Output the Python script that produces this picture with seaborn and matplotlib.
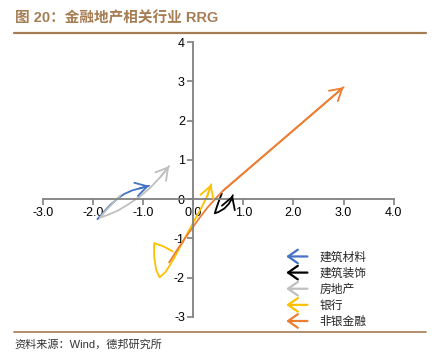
import matplotlib
matplotlib.use("Agg")
import matplotlib.pyplot as plt
import pandas as pd
import seaborn as sns
from matplotlib.lines import Line2D
from matplotlib.patches import FancyArrowPatch
from matplotlib.legend_handler import HandlerBase

# RRG tails (x = relative strength, y = momentum)
names = ["建筑材料", "建筑装饰", "房地产", "银行", "非银金融"]
colors = ["#4472C4", "#000000", "#BFBFBF", "#FFC000", "#ED7D31"]

jzcl_x = [-1.91, -1.78, -1.65, -1.50, -1.38, -1.22, -1.08, -0.88]
jzcl_y = [-0.51, -0.32, -0.14, 0.02, 0.13, 0.22, 0.27, 0.34]

jzzs_x = [0.57, 0.52, 0.47, 0.43, 0.50, 0.62, 0.71, 0.76, 0.79]
jzzs_y = [0.14, -0.02, -0.20, -0.36, -0.33, -0.24, -0.12, -0.01, 0.10]

fdc_x = [-1.45, -1.60, -1.75, -1.86, -1.70, -1.50, -1.28, -1.05, -0.85, -0.65, -0.48]
fdc_y = [0.10, -0.10, -0.30, -0.47, -0.40, -0.29, -0.12, 0.08, 0.30, 0.57, 0.84]

yh_x = [-0.41, -0.60, -0.78, -0.78, -0.74, -0.67, -0.55, -0.38, -0.18, 0.02, 0.17, 0.28, 0.36]
yh_y = [-1.33, -1.20, -1.12, -1.45, -1.80, -1.99, -1.85, -1.50, -1.02, -0.55, -0.20, 0.08, 0.38]

fy_x = [-0.48, -0.30, -0.10, 0.10, 0.28, 0.45, 0.60, 3.00]
fy_y = [-1.61, -1.25, -0.88, -0.52, -0.22, 0.02, 0.22, 2.85]

series_x = [jzcl_x, jzzs_x, fdc_x, yh_x, fy_x]
series_y = [jzcl_y, jzzs_y, fdc_y, yh_y, fy_y]

x_ticks = [-3, -2, -1, 0, 1, 2, 3, 4]
y_ticks = [-3, -2, -1, 0, 1, 2, 3, 4]


class ArrowHandler(HandlerBase):
    """Legend entry drawn as a left-pointing open arrow."""
    def create_artists(self, legend, orig_handle, xdescent, ydescent,
                       width, height, fontsize, trans):
        y = height / 2 - ydescent
        arr = FancyArrowPatch((width - xdescent, y), (-xdescent, y),
                              arrowstyle="->,head_length=0.5,head_width=0.35",
                              mutation_scale=14, color=orig_handle.get_color(),
                              lw=1.6, shrinkA=0, shrinkB=0, transform=trans)
        return [arr]


sns.set_theme(style="white")
# Arial-like digits, CJK glyphs fall back to Noto
plt.rcParams["font.family"] = ["Liberation Sans", "Noto Sans CJK SC", "DejaVu Sans"]
plt.rcParams["axes.unicode_minus"] = False

fig = plt.figure(figsize=(4.37, 3.59), dpi=100)
ax = fig.add_axes([0.098, 0.117, 0.803, 0.766])

handles = []
for name, c, xs, ys in zip(names, colors, series_x, series_y):
    df = pd.DataFrame({"x": xs, "y": ys})
    sns.lineplot(data=df, x="x", y="y", sort=False, color=c, lw=1.3, ax=ax,
                 estimator=None)
    ax.annotate("", xy=(xs[-1], ys[-1]), xytext=(xs[-2], ys[-2]),
                arrowprops=dict(arrowstyle="->,head_length=0.6,head_width=0.35",
                                color=c, lw=1.3, mutation_scale=14,
                                shrinkA=0, shrinkB=0))
    handles.append(Line2D([], [], color=c, label=name))

ax.set_xlim(-3, 4)
ax.set_ylim(-3, 4)
ax.set_xticks(x_ticks)
ax.set_xticklabels([f"{v:.1f}" for v in x_ticks])
ax.set_yticks(y_ticks)
ax.set_yticklabels([str(v) for v in y_ticks])
ax.set_xlabel("")
ax.set_ylabel("")

# axes crossing at zero
ax.spines["left"].set_position(("data", 0))
ax.spines["bottom"].set_position(("data", 0))
ax.spines["right"].set_visible(False)
ax.spines["top"].set_visible(False)
for s in ["left", "bottom"]:
    ax.spines[s].set_color("#808080")
    ax.spines[s].set_linewidth(1.3)
ax.tick_params(axis="both", direction="out", length=4, width=1.2,
               color="#808080", labelsize=9, labelcolor="black", pad=2)
ax.tick_params(axis="x", bottom=True)
ax.tick_params(axis="y", left=True)
ax.patch.set_alpha(0)

leg = ax.legend(handles=handles, handler_map={Line2D: ArrowHandler()},
                loc="upper left", bbox_to_anchor=(0.68, 0.255), frameon=False,
                fontsize=8.5, handlelength=1.8, handletextpad=1.0,
                labelspacing=0.35, borderaxespad=0)

# header / footer
title_col = "#A67C52"
fig.text(0.034, 0.948, "图 20：金融地产相关行业 RRG", fontsize=10.5,
         fontweight="bold", color=title_col, va="center", ha="left")
fig.lines.append(Line2D([0.032, 0.975], [0.908, 0.908], transform=fig.transFigure,
                        color=title_col, lw=1.6))
fig.lines.append(Line2D([0.032, 0.975], [0.075, 0.075], transform=fig.transFigure,
                        color=title_col, lw=1.2))
fig.text(0.034, 0.04, "资料来源：Wind，德邦研究所", fontsize=8,
         color="#333333", va="center", ha="left")

plt.savefig("out.png", dpi=100)
